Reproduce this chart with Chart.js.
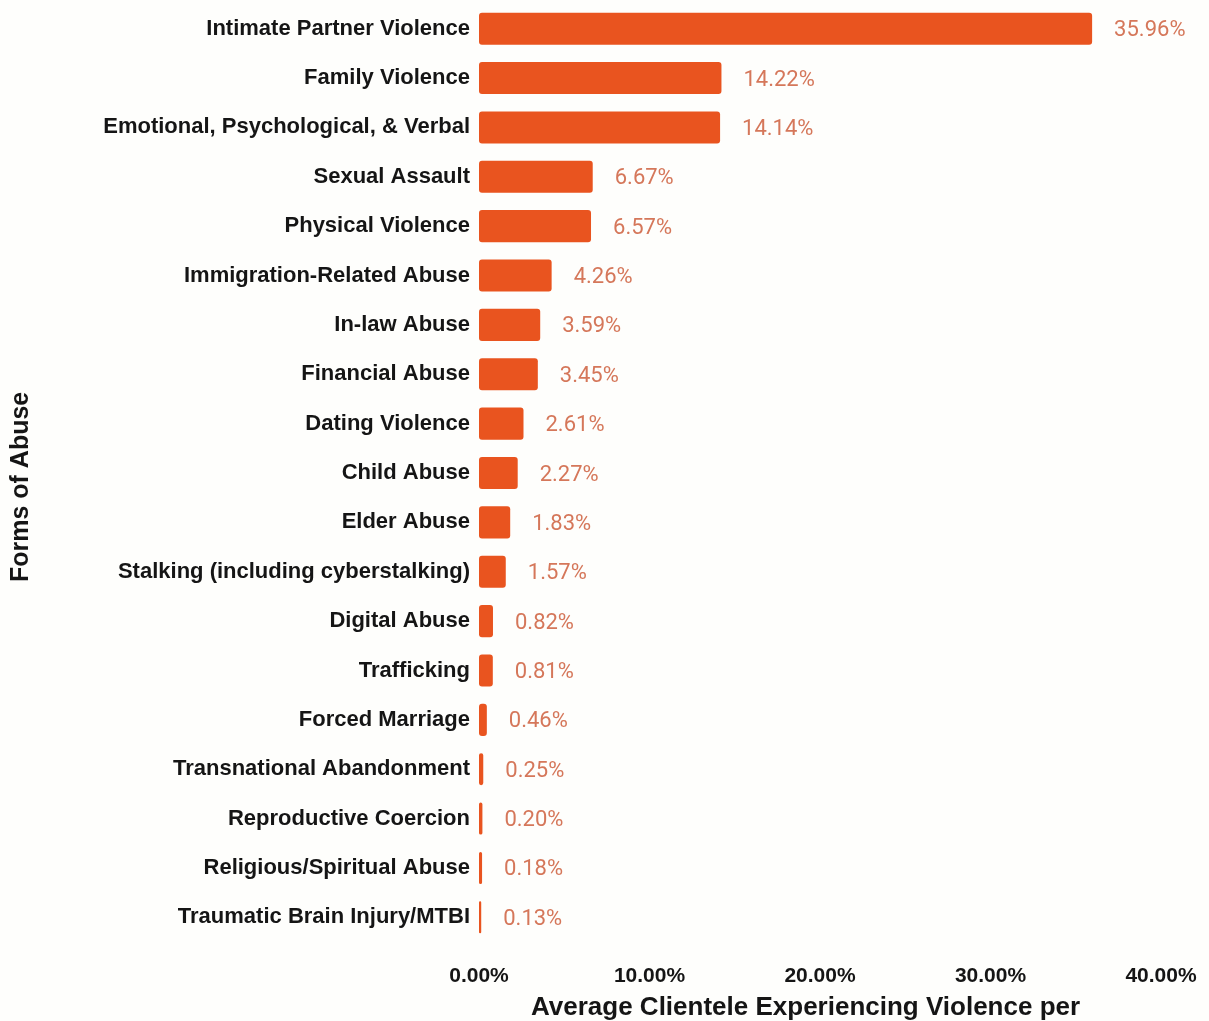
<!DOCTYPE html>
<html>
<head>
<meta charset="utf-8">
<script src="https://cdn.jsdelivr.net/npm/chart.js@4/dist/chart.umd.min.js"></script>
<style>
  html, body { margin: 0; padding: 0; background: #fefefc; }
  #wrap { width: 1209px; height: 1021px; }
</style>
</head>
<body>
<div id="wrap"><canvas id="abuseChart" width="1209" height="1021"></canvas></div>
<script>
var forms = [
    'Intimate Partner Violence',
    'Family Violence',
    'Emotional, Psychological, & Verbal',
    'Sexual Assault',
    'Physical Violence',
    'Immigration-Related Abuse',
    'In-law Abuse',
    'Financial Abuse',
    'Dating Violence',
    'Child Abuse',
    'Elder Abuse',
    'Stalking (including cyberstalking)',
    'Digital Abuse',
    'Trafficking',
    'Forced Marriage',
    'Transnational Abandonment',
    'Reproductive Coercion',
    'Religious/Spiritual Abuse',
    'Traumatic Brain Injury/MTBI'
];
var shares = [35.96, 14.22, 14.14, 6.67, 6.57, 4.26, 3.59, 3.45, 2.61, 2.27,
              1.83, 1.57, 0.82, 0.81, 0.46, 0.25, 0.20, 0.18, 0.13];
var xTicks = [0, 10, 20, 30, 40];

var barColor = '#e9541f';
var labelColor = '#d5775a';
var inkColor = '#151515';

// percentage text just past the end of each bar
var valueLabels = {
    id: 'valueLabels',
    afterDatasetsDraw: function(chart) {
        var ctx = chart.ctx;
        var meta = chart.getDatasetMeta(0);
        ctx.save();
        ctx.font = '22px Roboto';
        ctx.fillStyle = labelColor;
        ctx.textAlign = 'left';
        ctx.textBaseline = 'middle';
        meta.data.forEach(function(bar, i) {
            ctx.fillText(shares[i].toFixed(2) + '%', bar.x + 22, bar.y + 2);
        });
        ctx.restore();
    }
};

document.addEventListener('DOMContentLoaded', function(){
    var ctx = document.getElementById('abuseChart').getContext('2d');
    var abuseChart = new Chart(ctx, {
        type: 'bar',
        data: {
            labels: forms,
            datasets: [{
                data: shares,
                backgroundColor: barColor,
                borderRadius: 3,
                borderSkipped: false,
                barPercentage: 0.65,
                categoryPercentage: 1
            }]
        },
        options: {
            indexAxis: 'y',
            responsive: false,
            animation: false,
            layout: { padding: { top: 4, right: 48, bottom: 0, left: 0 } },
            plugins: {
                legend: { display: false },
                tooltip: { enabled: false }
            },
            scales: {
                x: {
                    min: 0,
                    max: 40,
                    afterBuildTicks: function(scale) {
                        scale.ticks = xTicks.map(function(v){ return { value: v }; });
                    },
                    afterFit: function(scale) {
                        scale.height = 79;
                        scale.paddingLeft = 0;
                        scale.paddingRight = 0;
                    },
                    grid: { display: false, drawTicks: false },
                    border: { display: false },
                    ticks: {
                        padding: 22,
                        color: inkColor,
                        font: { family: 'Liberation Sans', size: 21, weight: 'bold' },
                        callback: function(v) { return Number(v).toFixed(2) + '%'; }
                    },
                    title: {
                        display: true,
                        text: 'Average Clientele Experiencing Violence per    ',
                        color: inkColor,
                        font: { family: 'Liberation Sans', size: 26, weight: 'bold' },
                        padding: { top: 0, bottom: -2 }
                    }
                },
                y: {
                    afterFit: function(scale) {
                        scale.width = 479;
                        scale.paddingTop = 0;
                        scale.paddingBottom = 0;
                    },
                    grid: { display: false, drawTicks: false },
                    border: { display: false },
                    ticks: {
                        padding: 9,
                        color: inkColor,
                        font: { family: 'Liberation Sans', size: 22, weight: 'bold' }
                    },
                    title: {
                        display: true,
                        text: 'Forms of Abuse    ',
                        color: inkColor,
                        font: { family: 'Liberation Sans', size: 25, weight: 'bold' },
                        padding: { top: 6, bottom: 0 }
                    }
                }
            }
        },
        plugins: [valueLabels]
    });
});
</script>
</body>
</html>
